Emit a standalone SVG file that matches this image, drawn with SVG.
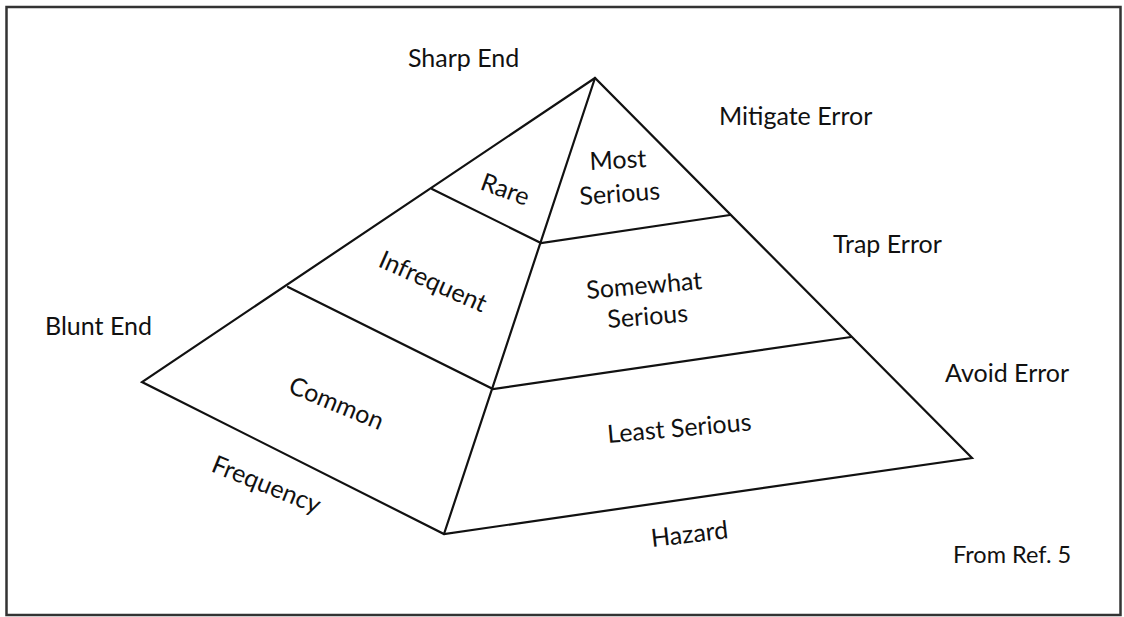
<svg xmlns="http://www.w3.org/2000/svg" width="1124" height="617" viewBox="0 0 1124 617">
<style>
.t{font-family:Lato,"Open Sans","Liberation Sans",sans-serif;font-size:25px;fill:#111}
.s{font-size:23.5px}
.e{fill:none;stroke:#111;stroke-width:2.2;stroke-linejoin:miter;stroke-linecap:round}
</style>
<rect x="0" y="0" width="1124" height="617" fill="#fff"/>
<rect id="frame" x="6.5" y="7" width="1114" height="608" fill="none" stroke="#333" stroke-width="2.5"/>
<g id="connectors" class="e">
<path d="M595,78 L142,382 L444,534 L972,458 Z"/>
<path d="M595,78 L444,534"/>
<path d="M432,189 L541,243 L730,215"/>
<path d="M288,287 L493,389 L851,337"/>
</g>
<g id="rare"><text class="t" transform="translate(479,189) rotate(20)">Rare</text></g>
<g id="infrequent"><text class="t" transform="translate(377,266) rotate(24)">Infrequent</text></g>
<g id="common"><text class="t" transform="translate(287,392) rotate(22.5)">Common</text></g>
<g id="most-serious"><text class="t" transform="translate(590,170) rotate(-3)">Most</text><text class="t" transform="translate(580,205) rotate(-4)">Serious</text></g>
<g id="somewhat-serious"><text class="t" transform="translate(587,299) rotate(-5)">Somewhat</text><text class="t" transform="translate(608,328) rotate(-4.5)">Serious</text></g>
<g id="least-serious"><text class="t" transform="translate(608,443) rotate(-5)">Least Serious</text></g>
<g id="sharp-end"><text class="t" x="408" y="67">Sharp End</text></g>
<g id="blunt-end"><text class="t" x="45" y="335">Blunt End</text></g>
<g id="mitigate"><text class="t" x="719" y="125">Mitigate Error</text></g>
<g id="trap"><text class="t" x="833" y="253">Trap Error</text></g>
<g id="avoid"><text class="t" x="945" y="382">Avoid Error</text></g>
<g id="frequency"><text class="t" transform="translate(210,471) rotate(22)">Frequency</text></g>
<g id="hazard"><text class="t" transform="translate(652,547) rotate(-6.5)">Hazard</text></g>
<g id="source"><text class="t s" x="953" y="563">From Ref. 5</text></g>
</svg>
